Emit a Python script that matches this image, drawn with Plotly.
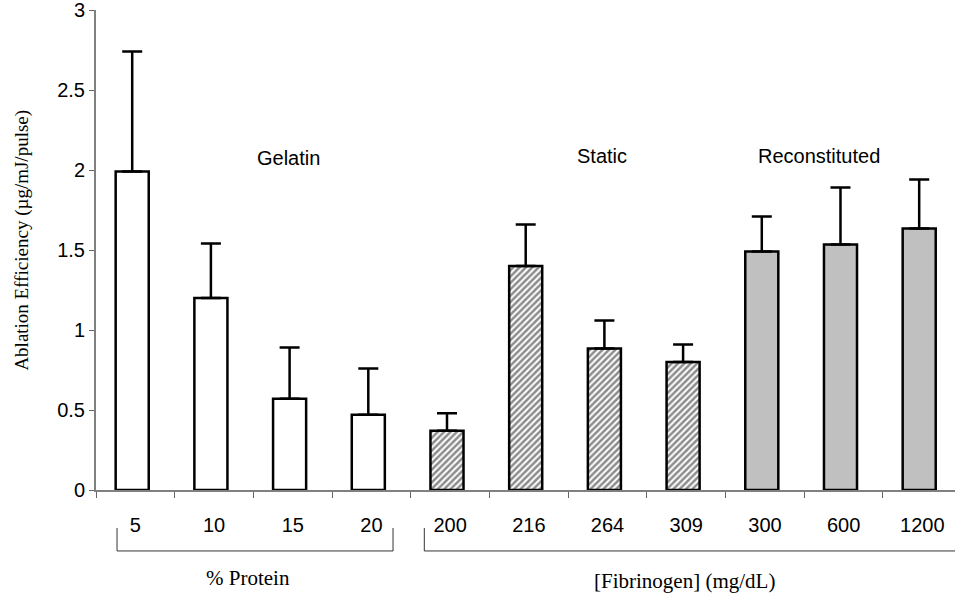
import plotly.graph_objects as go

gel_cats = ["5", "10", "15", "20"]
gel_vals = [1.99, 1.20, 0.57, 0.47]
gel_err_top = [2.74, 1.54, 0.89, 0.76]

sta_cats = ["200", "216", "264", "309"]
sta_vals = [0.37, 1.40, 0.885, 0.80]
sta_err_top = [0.48, 1.66, 1.06, 0.91]

rec_cats = ["300", "600", "1200"]
rec_vals = [1.49, 1.535, 1.635]
rec_err_top = [1.71, 1.89, 1.94]

all_cats = gel_cats + sta_cats + rec_cats
y_ticks = [0, 0.5, 1, 1.5, 2, 2.5, 3]
y_tick_text = ["0", "0.5", "1", "1.5", "2", "2.5", "3"]

SANS = "Arial, Liberation Sans, sans-serif"
SERIF = "Times New Roman, Liberation Serif, serif"

BAR_W = 0.42
BAR_OFF = -0.25


def err(vals, tops):
    return [t - v for v, t in zip(vals, tops)]


def errbar(vals, tops):
    return dict(type="data", symmetric=False, array=err(vals, tops),
                arrayminus=[0] * len(vals), color="black", thickness=2.5, width=10)


fig = go.Figure()
fig.add_trace(go.Bar(
    x=gel_cats, y=gel_vals, width=BAR_W, offset=BAR_OFF,
    marker=dict(color="white", line=dict(color="black", width=2.5)),
    error_y=errbar(gel_vals, gel_err_top), showlegend=False))
fig.add_trace(go.Bar(
    x=sta_cats, y=sta_vals, width=BAR_W, offset=BAR_OFF,
    marker=dict(color="white", line=dict(color="black", width=2.5),
                pattern=dict(shape="/", fgcolor="#1a1a1a", bgcolor="white",
                             size=4.5, solidity=0.55)),
    error_y=errbar(sta_vals, sta_err_top), showlegend=False))
fig.add_trace(go.Bar(
    x=rec_cats, y=rec_vals, width=BAR_W, offset=BAR_OFF,
    marker=dict(color="#c0c0c0", line=dict(color="black", width=2.5)),
    error_y=errbar(rec_vals, rec_err_top), showlegend=False))

# group labels
group_labels = [("Gelatin", 1.946, 2.075), ("Static", 5.93, 2.09), ("Reconstituted", 8.69, 2.09)]
for text, xc, yc in group_labels:
    fig.add_annotation(x=xc, y=yc, xref="x", yref="y", text=text, showarrow=False,
                       xanchor="center", yanchor="middle",
                       font=dict(family=SANS, size=20, color="black"))

# y-axis title
fig.add_annotation(x=-0.0865, y=0.521, xref="paper", yref="paper",
                   text="Ablation Efficiency (µg/mJ/pulse)", textangle=-90,
                   showarrow=False, xanchor="center", yanchor="middle",
                   font=dict(family=SERIF, size=19, color="black"))

# brackets under the axis
bracket_color = "#333333"
fig.add_shape(type="path", xref="paper", yref="paper",
              path="M 0.0245,-0.0792 L 0.0245,-0.127 L 0.3458,-0.127 L 0.3458,-0.0792",
              line=dict(color=bracket_color, width=1))
fig.add_shape(type="path", xref="paper", yref="paper",
              path="M 0.3822,-0.0792 L 0.3822,-0.127 L 1.0,-0.127",
              line=dict(color=bracket_color, width=1))
fig.add_annotation(x=0.1775, y=-0.183, xref="paper", yref="paper", text="% Protein",
                   showarrow=False, xanchor="center", yanchor="middle",
                   font=dict(family=SERIF, size=21, color="black"))
fig.add_annotation(x=0.6855, y=-0.19, xref="paper", yref="paper", text="[Fibrinogen] (mg/dL)",
                   showarrow=False, xanchor="center", yanchor="middle",
                   font=dict(family=SERIF, size=21, color="black"))

fig.update_layout(
    width=955, height=600,
    margin=dict(l=96, r=0, t=10, b=110),
    plot_bgcolor="white", paper_bgcolor="white",
    barmode="overlay",
    xaxis=dict(type="category", categoryorder="array", categoryarray=all_cats,
               range=[-0.5, 10.415], showline=True, linecolor="#808080", linewidth=2,
               ticks="outside", tickson="boundaries", ticklen=6, tickcolor="#666666",
               tickwidth=1, showgrid=False, zeroline=False,
               tickfont=dict(family=SANS, size=20, color="black"),
               ticklabelstandoff=16),
    yaxis=dict(range=[0, 3], tickvals=y_ticks, ticktext=y_tick_text,
               showline=True, linecolor="#808080", linewidth=2,
               ticks="outside", ticklen=5, tickcolor="#666666", tickwidth=1,
               showgrid=False, zeroline=False, ticklabeloverflow="allow",
               tickfont=dict(family=SANS, size=20, color="black")),
)

fig.write_html("out.html")
